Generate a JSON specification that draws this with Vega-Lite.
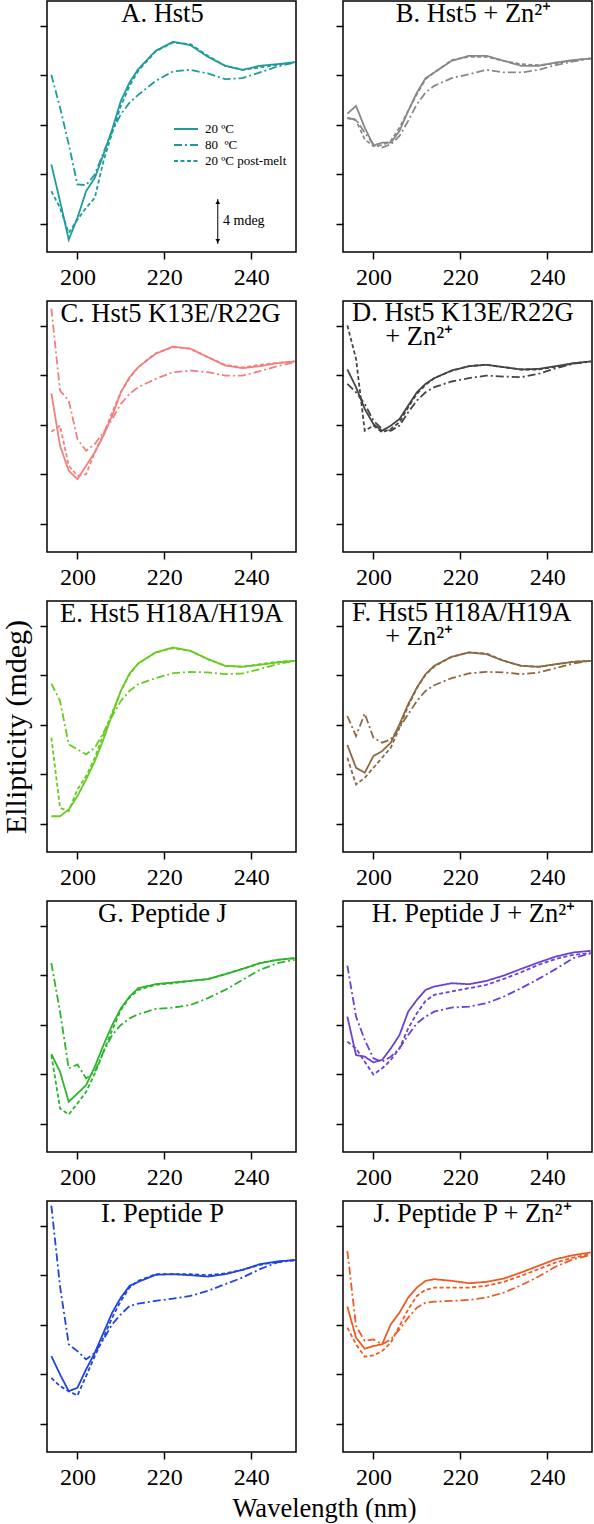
{
"$schema": "https://vega.github.io/schema/vega-lite/v6.json",
"padding": {"left": 0, "top": -1, "right": 0, "bottom": 0},
"autosize": {"type": "pad"},
"background": "white",
"data": {"values": [
{"p":"A","w":194,"t20":-7.22,"t80":0.03,"post":-9.38},
{"p":"A","w":196,"t20":-10.19,"t80":-2.62,"post":-10.73},
{"p":"A","w":198,"t20":-13.3,"t80":-5.59,"post":-12.76},
{"p":"A","w":200,"t20":-11.54,"t80":-8.84,"post":-11.68},
{"p":"A","w":202,"t20":-9.38,"t80":-8.89,"post":-10.73},
{"p":"A","w":204,"t20":-8.3,"t80":-8.03,"post":-9.92},
{"p":"A","w":206,"t20":-6.41,"t80":-6.27,"post":-6.95},
{"p":"A","w":208,"t20":-4.38,"t80":-4.51,"post":-4.65},
{"p":"A","w":210,"t20":-2.08,"t80":-3.16,"post":-2.49},
{"p":"A","w":212,"t20":-0.59,"t80":-2.22,"post":-0.86},
{"p":"A","w":214,"t20":0.49,"t80":-1.59,"post":0.35},
{"p":"A","w":218,"t20":1.97,"t80":-0.46,"post":1.92},
{"p":"A","w":222,"t20":2.7,"t80":0.3,"post":2.65},
{"p":"A","w":226,"t20":2.43,"t80":0.43,"post":2.51},
{"p":"A","w":230,"t20":1.49,"t80":0.14,"post":1.57},
{"p":"A","w":234,"t20":0.76,"t80":-0.32,"post":0.76},
{"p":"A","w":238,"t20":0.43,"t80":-0.24,"post":0.43},
{"p":"A","w":242,"t20":0.76,"t80":0.22,"post":0.62},
{"p":"A","w":246,"t20":0.89,"t80":0.7,"post":0.84},
{"p":"A","w":250,"t20":1.05,"t80":1.03,"post":1.05},
{"p":"B","w":194,"t20":-3.11,"t80":-3.49,"post":-3.43},
{"p":"B","w":196,"t20":-2.49,"t80":-3.57,"post":-3.65},
{"p":"B","w":198,"t20":-4.24,"t80":-4.65,"post":-5.19},
{"p":"B","w":200,"t20":-5.68,"t80":-5.59,"post":-5.73},
{"p":"B","w":202,"t20":-5.46,"t80":-5.86,"post":-5.65},
{"p":"B","w":204,"t20":-5.46,"t80":-5.59,"post":-5.32},
{"p":"B","w":206,"t20":-4.51,"t80":-4.92,"post":-4.24},
{"p":"B","w":208,"t20":-2.89,"t80":-3.7,"post":-2.89},
{"p":"B","w":210,"t20":-1.41,"t80":-2.35,"post":-1.54},
{"p":"B","w":212,"t20":-0.24,"t80":-1.41,"post":-0.32},
{"p":"B","w":214,"t20":0.22,"t80":-0.86,"post":0.22},
{"p":"B","w":218,"t20":1.16,"t80":-0.24,"post":1.22},
{"p":"B","w":222,"t20":1.57,"t80":0.08,"post":1.49},
{"p":"B","w":226,"t20":1.57,"t80":0.43,"post":1.49},
{"p":"B","w":230,"t20":1.16,"t80":0.22,"post":1.16},
{"p":"B","w":234,"t20":0.76,"t80":0.22,"post":0.89},
{"p":"B","w":238,"t20":0.76,"t80":0.43,"post":0.81},
{"p":"B","w":242,"t20":1.03,"t80":0.81,"post":0.95},
{"p":"B","w":246,"t20":1.22,"t80":1.11,"post":1.22},
{"p":"B","w":250,"t20":1.35,"t80":1.35,"post":1.35},
{"p":"C","w":194,"t20":-1.46,"t80":5.38,"post":-4.57},
{"p":"C","w":196,"t20":-5.7,"t80":-1.24,"post":-4.08},
{"p":"C","w":198,"t20":-7.73,"t80":-2.05,"post":-7.32},
{"p":"C","w":200,"t20":-8.41,"t80":-5.16,"post":-8.14},
{"p":"C","w":202,"t20":-7.32,"t80":-6.11,"post":-8.0},
{"p":"C","w":204,"t20":-6.24,"t80":-5.57,"post":-6.24},
{"p":"C","w":206,"t20":-4.89,"t80":-4.62,"post":-4.76},
{"p":"C","w":208,"t20":-3.27,"t80":-3.54,"post":-3.0},
{"p":"C","w":210,"t20":-1.38,"t80":-2.32,"post":-1.38},
{"p":"C","w":212,"t20":-0.16,"t80":-1.51,"post":-0.24},
{"p":"C","w":214,"t20":0.65,"t80":-0.97,"post":0.65},
{"p":"C","w":218,"t20":1.73,"t80":-0.3,"post":1.78},
{"p":"C","w":222,"t20":2.32,"t80":0.24,"post":2.27},
{"p":"C","w":226,"t20":2.14,"t80":0.38,"post":2.14},
{"p":"C","w":230,"t20":1.46,"t80":0.24,"post":1.46},
{"p":"C","w":234,"t20":0.78,"t80":-0.03,"post":0.84},
{"p":"C","w":238,"t20":0.57,"t80":-0.03,"post":0.62},
{"p":"C","w":242,"t20":0.73,"t80":0.32,"post":0.84},
{"p":"C","w":246,"t20":0.97,"t80":0.73,"post":1.0},
{"p":"C","w":250,"t20":1.11,"t80":1.05,"post":1.11},
{"p":"D","w":194,"t20":0.46,"t80":-0.7,"post":4.03},
{"p":"D","w":196,"t20":-0.97,"t80":-1.38,"post":1.32},
{"p":"D","w":198,"t20":-2.73,"t80":-2.32,"post":-4.49},
{"p":"D","w":200,"t20":-3.95,"t80":-3.68,"post":-4.08},
{"p":"D","w":202,"t20":-4.49,"t80":-4.35,"post":-4.62},
{"p":"D","w":204,"t20":-4.08,"t80":-4.49,"post":-4.35},
{"p":"D","w":206,"t20":-3.54,"t80":-4.08,"post":-3.81},
{"p":"D","w":208,"t20":-2.46,"t80":-3.0,"post":-2.59},
{"p":"D","w":210,"t20":-1.38,"t80":-2.05,"post":-1.51},
{"p":"D","w":212,"t20":-0.7,"t80":-1.38,"post":-0.78},
{"p":"D","w":214,"t20":-0.24,"t80":-0.97,"post":-0.24},
{"p":"D","w":218,"t20":0.38,"t80":-0.51,"post":0.35},
{"p":"D","w":222,"t20":0.73,"t80":-0.24,"post":0.73},
{"p":"D","w":226,"t20":0.84,"t80":-0.03,"post":0.84},
{"p":"D","w":230,"t20":0.65,"t80":-0.11,"post":0.65},
{"p":"D","w":234,"t20":0.46,"t80":-0.16,"post":0.46},
{"p":"D","w":238,"t20":0.51,"t80":0.11,"post":0.46},
{"p":"D","w":242,"t20":0.73,"t80":0.57,"post":0.68},
{"p":"D","w":246,"t20":0.97,"t80":0.92,"post":0.95},
{"p":"D","w":250,"t20":1.11,"t80":1.11,"post":1.11},
{"p":"E","w":194,"t20":-11.41,"t80":-0.68,"post":-5.05},
{"p":"E","w":196,"t20":-11.41,"t80":-2.08,"post":-10.73},
{"p":"E","w":198,"t20":-10.86,"t80":-5.59,"post":-11.0},
{"p":"E","w":200,"t20":-9.78,"t80":-6.0,"post":-9.24},
{"p":"E","w":202,"t20":-8.43,"t80":-6.41,"post":-8.16},
{"p":"E","w":204,"t20":-6.95,"t80":-5.86,"post":-6.68},
{"p":"E","w":206,"t20":-5.19,"t80":-4.65,"post":-4.78},
{"p":"E","w":208,"t20":-3.16,"t80":-3.3,"post":-3.03},
{"p":"E","w":210,"t20":-1.27,"t80":-2.08,"post":-1.27},
{"p":"E","w":212,"t20":0.14,"t80":-1.27,"post":0.08},
{"p":"E","w":214,"t20":0.95,"t80":-0.73,"post":0.95},
{"p":"E","w":218,"t20":1.84,"t80":-0.24,"post":1.84},
{"p":"E","w":222,"t20":2.24,"t80":0.16,"post":2.19},
{"p":"E","w":226,"t20":1.97,"t80":0.27,"post":1.97},
{"p":"E","w":230,"t20":1.3,"t80":0.22,"post":1.3},
{"p":"E","w":234,"t20":0.76,"t80":0.08,"post":0.76},
{"p":"E","w":238,"t20":0.68,"t80":0.14,"post":0.68},
{"p":"E","w":242,"t20":0.84,"t80":0.49,"post":0.89},
{"p":"E","w":246,"t20":1.03,"t80":0.89,"post":1.08},
{"p":"E","w":250,"t20":1.16,"t80":1.16,"post":1.16},
{"p":"F","w":194,"t20":-5.65,"t80":-3.3,"post":-6.68},
{"p":"F","w":196,"t20":-7.49,"t80":-4.92,"post":-8.84},
{"p":"F","w":198,"t20":-7.89,"t80":-3.11,"post":-8.3},
{"p":"F","w":200,"t20":-6.54,"t80":-5.05,"post":-7.49},
{"p":"F","w":202,"t20":-6.14,"t80":-5.46,"post":-6.68},
{"p":"F","w":204,"t20":-5.46,"t80":-5.19,"post":-5.86},
{"p":"F","w":206,"t20":-3.97,"t80":-4.24,"post":-4.24},
{"p":"F","w":208,"t20":-2.35,"t80":-3.16,"post":-2.49},
{"p":"F","w":210,"t20":-1.0,"t80":-2.08,"post":-1.05},
{"p":"F","w":212,"t20":0.08,"t80":-1.27,"post":0.03},
{"p":"F","w":214,"t20":0.76,"t80":-0.81,"post":0.7},
{"p":"F","w":218,"t20":1.49,"t80":-0.24,"post":1.49},
{"p":"F","w":222,"t20":1.84,"t80":0.14,"post":1.84},
{"p":"F","w":226,"t20":1.7,"t80":0.27,"post":1.76},
{"p":"F","w":230,"t20":1.16,"t80":0.22,"post":1.16},
{"p":"F","w":234,"t20":0.76,"t80":0.08,"post":0.76},
{"p":"F","w":238,"t20":0.68,"t80":0.22,"post":0.68},
{"p":"F","w":242,"t20":0.89,"t80":0.57,"post":0.89},
{"p":"F","w":246,"t20":1.08,"t80":0.95,"post":1.08},
{"p":"F","w":250,"t20":1.16,"t80":1.16,"post":1.16},
{"p":"G","w":194,"t20":-6.38,"t80":0.97,"post":-6.46},
{"p":"G","w":196,"t20":-7.81,"t80":-2.95,"post":-10.78},
{"p":"G","w":198,"t20":-10.24,"t80":-7.54,"post":-11.27},
{"p":"G","w":200,"t20":-9.57,"t80":-7.22,"post":-10.38},
{"p":"G","w":202,"t20":-8.89,"t80":-8.35,"post":-9.43},
{"p":"G","w":204,"t20":-7.41,"t80":-7.81,"post":-7.95},
{"p":"G","w":206,"t20":-5.65,"t80":-6.19,"post":-6.19},
{"p":"G","w":208,"t20":-4.03,"t80":-4.84,"post":-4.43},
{"p":"G","w":210,"t20":-2.68,"t80":-4.03,"post":-2.81},
{"p":"G","w":212,"t20":-1.73,"t80":-3.49,"post":-1.81},
{"p":"G","w":214,"t20":-1.05,"t80":-3.16,"post":-1.19},
{"p":"G","w":218,"t20":-0.73,"t80":-2.73,"post":-0.78},
{"p":"G","w":222,"t20":-0.59,"t80":-2.62,"post":-0.65},
{"p":"G","w":226,"t20":-0.46,"t80":-2.41,"post":-0.46},
{"p":"G","w":230,"t20":-0.32,"t80":-1.86,"post":-0.32},
{"p":"G","w":234,"t20":0.08,"t80":-1.19,"post":0.08},
{"p":"G","w":238,"t20":0.51,"t80":-0.38,"post":0.51},
{"p":"G","w":242,"t20":0.97,"t80":0.43,"post":0.97},
{"p":"G","w":246,"t20":1.24,"t80":0.97,"post":1.24},
{"p":"G","w":250,"t20":1.38,"t80":1.24,"post":1.38},
{"p":"H","w":194,"t20":-3.35,"t80":0.78,"post":-5.38},
{"p":"H","w":196,"t20":-6.46,"t80":-3.35,"post":-5.92},
{"p":"H","w":198,"t20":-6.59,"t80":-5.24,"post":-7.0},
{"p":"H","w":200,"t20":-7.05,"t80":-6.73,"post":-8.03},
{"p":"H","w":202,"t20":-6.86,"t80":-7.0,"post":-7.54},
{"p":"H","w":204,"t20":-5.92,"t80":-6.59,"post":-6.86},
{"p":"H","w":206,"t20":-4.84,"t80":-5.92,"post":-5.92},
{"p":"H","w":208,"t20":-2.95,"t80":-4.84,"post":-4.3},
{"p":"H","w":210,"t20":-2.0,"t80":-3.89,"post":-3.08},
{"p":"H","w":212,"t20":-1.19,"t80":-3.35,"post":-2.08},
{"p":"H","w":214,"t20":-0.92,"t80":-2.95,"post":-1.59},
{"p":"H","w":218,"t20":-0.65,"t80":-2.62,"post":-1.32},
{"p":"H","w":222,"t20":-0.73,"t80":-2.54,"post":-1.05},
{"p":"H","w":226,"t20":-0.46,"t80":-2.27,"post":-0.78},
{"p":"H","w":230,"t20":-0.03,"t80":-1.73,"post":-0.3},
{"p":"H","w":234,"t20":0.51,"t80":-1.05,"post":0.24},
{"p":"H","w":238,"t20":1.03,"t80":-0.3,"post":0.84},
{"p":"H","w":242,"t20":1.51,"t80":0.51,"post":1.32},
{"p":"H","w":246,"t20":1.84,"t80":1.38,"post":1.65},
{"p":"H","w":250,"t20":1.97,"t80":1.78,"post":1.78},
{"p":"I","w":194,"t20":-6.54,"t80":5.62,"post":-8.3},
{"p":"I","w":196,"t20":-8.03,"t80":-0.9,"post":-8.97},
{"p":"I","w":198,"t20":-9.38,"t80":-5.59,"post":-9.38},
{"p":"I","w":200,"t20":-9.11,"t80":-6.14,"post":-9.73},
{"p":"I","w":202,"t20":-7.62,"t80":-6.81,"post":-8.16},
{"p":"I","w":204,"t20":-6.27,"t80":-6.27,"post":-6.54},
{"p":"I","w":206,"t20":-4.65,"t80":-5.19,"post":-5.05},
{"p":"I","w":208,"t20":-3.03,"t80":-3.97,"post":-3.43},
{"p":"I","w":210,"t20":-1.81,"t80":-3.16,"post":-2.08},
{"p":"I","w":212,"t20":-0.86,"t80":-2.49,"post":-1.0},
{"p":"I","w":214,"t20":-0.54,"t80":-2.3,"post":-0.46},
{"p":"I","w":218,"t20":0.03,"t80":-2.08,"post":0.08},
{"p":"I","w":222,"t20":0.08,"t80":-1.89,"post":0.08},
{"p":"I","w":226,"t20":0.0,"t80":-1.68,"post":0.08},
{"p":"I","w":230,"t20":-0.11,"t80":-1.27,"post":0.0},
{"p":"I","w":234,"t20":0.08,"t80":-0.73,"post":0.14},
{"p":"I","w":238,"t20":0.43,"t80":-0.19,"post":0.43},
{"p":"I","w":242,"t20":0.89,"t80":0.49,"post":0.84},
{"p":"I","w":246,"t20":1.11,"t80":1.03,"post":1.08},
{"p":"I","w":250,"t20":1.22,"t80":1.22,"post":1.22},
{"p":"J","w":194,"t20":-2.54,"t80":1.97,"post":-4.24},
{"p":"J","w":196,"t20":-5.05,"t80":-4.11,"post":-5.59},
{"p":"J","w":198,"t20":-5.95,"t80":-5.32,"post":-6.59},
{"p":"J","w":200,"t20":-5.73,"t80":-5.19,"post":-6.49},
{"p":"J","w":202,"t20":-5.59,"t80":-5.59,"post":-6.14},
{"p":"J","w":204,"t20":-3.97,"t80":-5.19,"post":-5.46},
{"p":"J","w":206,"t20":-3.03,"t80":-4.38,"post":-4.11},
{"p":"J","w":208,"t20":-1.81,"t80":-3.43,"post":-2.76},
{"p":"J","w":210,"t20":-1.0,"t80":-2.62,"post":-1.68},
{"p":"J","w":212,"t20":-0.46,"t80":-2.22,"post":-1.19},
{"p":"J","w":214,"t20":-0.32,"t80":-2.14,"post":-1.0},
{"p":"J","w":218,"t20":-0.46,"t80":-2.08,"post":-1.0},
{"p":"J","w":222,"t20":-0.65,"t80":-2.0,"post":-1.0},
{"p":"J","w":226,"t20":-0.54,"t80":-1.81,"post":-0.86},
{"p":"J","w":230,"t20":-0.27,"t80":-1.41,"post":-0.54},
{"p":"J","w":234,"t20":0.22,"t80":-0.81,"post":-0.05},
{"p":"J","w":238,"t20":0.76,"t80":-0.11,"post":0.49},
{"p":"J","w":242,"t20":1.3,"t80":0.7,"post":1.03},
{"p":"J","w":246,"t20":1.62,"t80":1.3,"post":1.43},
{"p":"J","w":250,"t20":1.84,"t80":1.62,"post":1.7}
]},
"columns": 2,
"spacing": {"row": 49, "column": 47},
"bounds": "flush",
"resolve": {"scale": {"strokeDash": "independent", "shape": "independent"}, "legend": {"strokeDash": "independent"}},
"config": {
  "font": "Liberation Serif",
  "view": {"stroke": "#000000", "strokeWidth": 1.5},
  "axis": {"grid": false, "domain": false, "ticks": true, "tickColor": "#000000", "tickWidth": 1.5, "tickSize": 7, "labelFont": "Liberation Serif", "labelFontSize": 24, "labelColor": "#000000", "labelPadding": 6, "titleFont": "Liberation Serif", "titleFontSize": 26, "titleFontWeight": "normal", "titleColor": "#000000"},
  "title": {"font": "Liberation Serif", "fontSize": 26.5, "fontWeight": "normal", "color": "#000000", "anchor": "middle", "frame": "group", "offset": -26, "baseline": "alphabetic", "lineHeight": 24}
},
"concat": [
{
  "width": 249, "height": 251,
  "title": {"text": "A. Hst5", "dx": -9},
  "encoding": {
    "x": {"field": "w", "type": "quantitative", "scale": {"domain": [193, 250.3], "nice": false, "zero": false}, "axis": {"values": [200, 220, 240], "title": null}},
    "y": {"field": "v", "type": "quantitative", "scale": {"domain": [-14.3, 6], "nice": false, "zero": false}, "axis": {"values": [4, 0, -4, -8, -12], "labels": false, "title": null}}
  },
  "layer": [
    {
      "transform": [{"filter": "datum.p == 'A'"}, {"fold": ["t20", "t80", "post"], "as": ["k", "v"]}],
      "mark": {"type": "line", "color": "#1e9c98", "strokeWidth": 1.8, "clip": true},
      "encoding": {
        "strokeDash": {"field": "k", "type": "nominal", "scale": {"domain": ["t20", "t80", "post"], "range": [[1, 0], [8, 3, 2, 3], [4, 2.5]]},
          "legend": {"orient": "none", "legendX": 130, "legendY": 119, "title": null, "symbolType": "M-1.5,0H1.5", "symbolStrokeColor": "#1e9c98", "symbolFillColor": "transparent", "symbolStrokeWidth": 2, "symbolSize": 256, "labelFont": "Liberation Serif", "labelFontSize": 13, "labelColor": "#000000", "labelOffset": 10, "rowPadding": 0,
            "labelExpr": "datum.value == 't20' ? '20 ºC' : datum.value == 't80' ? '80\u00a0 ºC' : '20 ºC post-melt'"}}
      }
    },
    {
      "data": {"values": [{"w": 232.3, "v": -10.01, "v2": -13.65}]},
      "mark": {"type": "rule", "color": "#000000", "strokeWidth": 1},
      "encoding": {"y2": {"field": "v2"}}
    },
    {
      "data": {"values": [{"w": 232.3, "v": -10.25, "s": "up"}, {"w": 232.3, "v": -13.41, "s": "down"}]},
      "mark": {"type": "point", "filled": true, "color": "#000000", "size": 22, "opacity": 1},
      "encoding": {"shape": {"field": "s", "type": "nominal", "scale": {"domain": ["up", "down"], "range": ["triangle-up", "triangle-down"]}, "legend": null}}
    },
    {
      "data": {"values": [{"w": 233.5, "v": -11.79, "t": "4 mdeg"}]},
      "mark": {"type": "text", "align": "left", "baseline": "middle", "fontSize": 14, "font": "Liberation Serif", "color": "#000000"},
      "encoding": {"text": {"field": "t"}}
    }
  ]
},
{
  "width": 249, "height": 251,
  "title": {"text": "B. Hst5 + Zn²⁺", "dx": 6},
  "transform": [{"filter": "datum.p == 'B'"}, {"fold": ["t20", "t80", "post"], "as": ["k", "v"]}],
  "mark": {"type": "line", "color": "#888888", "strokeWidth": 1.8, "clip": true},
  "encoding": {
    "x": {"field": "w", "type": "quantitative", "scale": {"domain": [193, 250.3], "nice": false, "zero": false}, "axis": {"values": [200, 220, 240], "title": null}},
    "y": {"field": "v", "type": "quantitative", "scale": {"domain": [-14.3, 6], "nice": false, "zero": false}, "axis": {"values": [4, 0, -4, -8, -12], "labels": false, "title": null}},
    "strokeDash": {"field": "k", "type": "nominal", "scale": {"domain": ["t20", "t80", "post"], "range": [[1, 0], [8, 3, 2, 3], [4, 2.5]]}, "legend": null}
  }
},
{
  "width": 249, "height": 251,
  "title": {"text": "C. Hst5 K13E/R22G", "dx": -1},
  "transform": [{"filter": "datum.p == 'C'"}, {"fold": ["t20", "t80", "post"], "as": ["k", "v"]}],
  "mark": {"type": "line", "color": "#f37f7f", "strokeWidth": 1.8, "clip": true},
  "encoding": {
    "x": {"field": "w", "type": "quantitative", "scale": {"domain": [193, 250.3], "nice": false, "zero": false}, "axis": {"values": [200, 220, 240], "title": null}},
    "y": {"field": "v", "type": "quantitative", "scale": {"domain": [-14.3, 6], "nice": false, "zero": false}, "axis": {"values": [4, 0, -4, -8, -12], "labels": false, "title": null}},
    "strokeDash": {"field": "k", "type": "nominal", "scale": {"domain": ["t20", "t80", "post"], "range": [[1, 0], [8, 3, 2, 3], [4, 2.5]]}, "legend": null}
  }
},
{
  "width": 249, "height": 251,
  "title": {"text": ["D. Hst5 K13E/R22G", "\u200b\u00a0\u00a0\u00a0\u00a0\u00a0+ Zn²⁺"], "anchor": "start", "dx": 9, "offset": -49},
  "transform": [{"filter": "datum.p == 'D'"}, {"fold": ["t20", "t80", "post"], "as": ["k", "v"]}],
  "mark": {"type": "line", "color": "#454545", "strokeWidth": 1.8, "clip": true},
  "encoding": {
    "x": {"field": "w", "type": "quantitative", "scale": {"domain": [193, 250.3], "nice": false, "zero": false}, "axis": {"values": [200, 220, 240], "title": null}},
    "y": {"field": "v", "type": "quantitative", "scale": {"domain": [-14.3, 6], "nice": false, "zero": false}, "axis": {"values": [4, 0, -4, -8, -12], "labels": false, "title": null}},
    "strokeDash": {"field": "k", "type": "nominal", "scale": {"domain": ["t20", "t80", "post"], "range": [[1, 0], [8, 3, 2, 3], [4, 2.5]]}, "legend": null}
  }
},
{
  "width": 249, "height": 251,
  "title": {"text": "E. Hst5 H18A/H19A", "dx": 0},
  "transform": [{"filter": "datum.p == 'E'"}, {"fold": ["t20", "t80", "post"], "as": ["k", "v"]}],
  "mark": {"type": "line", "color": "#66cc1e", "strokeWidth": 1.8, "clip": true},
  "encoding": {
    "x": {"field": "w", "type": "quantitative", "scale": {"domain": [193, 250.3], "nice": false, "zero": false}, "axis": {"values": [200, 220, 240], "title": null}},
    "y": {"field": "v", "type": "quantitative", "scale": {"domain": [-14.3, 6], "nice": false, "zero": false}, "axis": {"values": [4, 0, -4, -8, -12], "labels": false, "title": "Ellipticity (mdeg)", "titleFontSize": 30, "titlePadding": 8}},
    "strokeDash": {"field": "k", "type": "nominal", "scale": {"domain": ["t20", "t80", "post"], "range": [[1, 0], [8, 3, 2, 3], [4, 2.5]]}, "legend": null}
  }
},
{
  "width": 249, "height": 251,
  "title": {"text": ["F. Hst5 H18A/H19A", "\u200b\u00a0\u00a0\u00a0\u00a0\u00a0+ Zn²⁺"], "anchor": "start", "dx": 9, "offset": -49},
  "transform": [{"filter": "datum.p == 'F'"}, {"fold": ["t20", "t80", "post"], "as": ["k", "v"]}],
  "mark": {"type": "line", "color": "#8b6944", "strokeWidth": 1.8, "clip": true},
  "encoding": {
    "x": {"field": "w", "type": "quantitative", "scale": {"domain": [193, 250.3], "nice": false, "zero": false}, "axis": {"values": [200, 220, 240], "title": null}},
    "y": {"field": "v", "type": "quantitative", "scale": {"domain": [-14.3, 6], "nice": false, "zero": false}, "axis": {"values": [4, 0, -4, -8, -12], "labels": false, "title": null}},
    "strokeDash": {"field": "k", "type": "nominal", "scale": {"domain": ["t20", "t80", "post"], "range": [[1, 0], [8, 3, 2, 3], [4, 2.5]]}, "legend": null}
  }
},
{
  "width": 249, "height": 251,
  "title": {"text": "G. Peptide J", "dx": -9},
  "transform": [{"filter": "datum.p == 'G'"}, {"fold": ["t20", "t80", "post"], "as": ["k", "v"]}],
  "mark": {"type": "line", "color": "#2ab52a", "strokeWidth": 1.8, "clip": true},
  "encoding": {
    "x": {"field": "w", "type": "quantitative", "scale": {"domain": [193, 250.3], "nice": false, "zero": false}, "axis": {"values": [200, 220, 240], "title": null}},
    "y": {"field": "v", "type": "quantitative", "scale": {"domain": [-14.3, 6], "nice": false, "zero": false}, "axis": {"values": [4, 0, -4, -8, -12], "labels": false, "title": null}},
    "strokeDash": {"field": "k", "type": "nominal", "scale": {"domain": ["t20", "t80", "post"], "range": [[1, 0], [8, 3, 2, 3], [4, 2.5]]}, "legend": null}
  }
},
{
  "width": 249, "height": 251,
  "title": {"text": "H. Peptide J + Zn²⁺", "dx": 6},
  "transform": [{"filter": "datum.p == 'H'"}, {"fold": ["t20", "t80", "post"], "as": ["k", "v"]}],
  "mark": {"type": "line", "color": "#6a40d8", "strokeWidth": 1.8, "clip": true},
  "encoding": {
    "x": {"field": "w", "type": "quantitative", "scale": {"domain": [193, 250.3], "nice": false, "zero": false}, "axis": {"values": [200, 220, 240], "title": null}},
    "y": {"field": "v", "type": "quantitative", "scale": {"domain": [-14.3, 6], "nice": false, "zero": false}, "axis": {"values": [4, 0, -4, -8, -12], "labels": false, "title": null}},
    "strokeDash": {"field": "k", "type": "nominal", "scale": {"domain": ["t20", "t80", "post"], "range": [[1, 0], [8, 3, 2, 3], [4, 2.5]]}, "legend": null}
  }
},
{
  "width": 249, "height": 251,
  "title": {"text": "I. Peptide P", "dx": -9},
  "transform": [{"filter": "datum.p == 'I'"}, {"fold": ["t20", "t80", "post"], "as": ["k", "v"]}],
  "mark": {"type": "line", "color": "#2244dd", "strokeWidth": 1.8, "clip": true},
  "encoding": {
    "x": {"field": "w", "type": "quantitative", "scale": {"domain": [193, 250.3], "nice": false, "zero": false}, "axis": {"values": [200, 220, 240], "title": "Wavelength (nm)", "titleX": 277, "titleY": 64, "titleBaseline": "alphabetic", "titleFontSize": 26.5}},
    "y": {"field": "v", "type": "quantitative", "scale": {"domain": [-14.3, 6], "nice": false, "zero": false}, "axis": {"values": [4, 0, -4, -8, -12], "labels": false, "title": null}},
    "strokeDash": {"field": "k", "type": "nominal", "scale": {"domain": ["t20", "t80", "post"], "range": [[1, 0], [8, 3, 2, 3], [4, 2.5]]}, "legend": null}
  }
},
{
  "width": 249, "height": 251,
  "title": {"text": "J. Peptide P + Zn²⁺", "dx": 5},
  "transform": [{"filter": "datum.p == 'J'"}, {"fold": ["t20", "t80", "post"], "as": ["k", "v"]}],
  "mark": {"type": "line", "color": "#f05a22", "strokeWidth": 1.8, "clip": true},
  "encoding": {
    "x": {"field": "w", "type": "quantitative", "scale": {"domain": [193, 250.3], "nice": false, "zero": false}, "axis": {"values": [200, 220, 240], "title": null}},
    "y": {"field": "v", "type": "quantitative", "scale": {"domain": [-14.3, 6], "nice": false, "zero": false}, "axis": {"values": [4, 0, -4, -8, -12], "labels": false, "title": null}},
    "strokeDash": {"field": "k", "type": "nominal", "scale": {"domain": ["t20", "t80", "post"], "range": [[1, 0], [8, 3, 2, 3], [4, 2.5]]}, "legend": null}
  }
}
]
}
